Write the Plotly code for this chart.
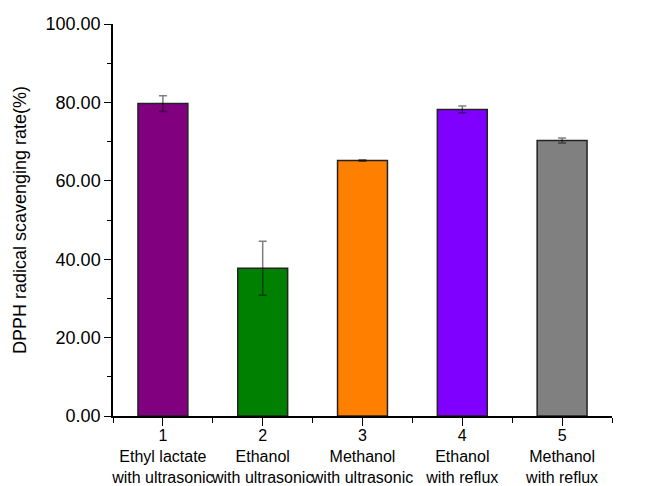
import plotly.graph_objects as go

positions = [1, 2, 3, 4, 5]
tick_labels = [
    "1<br>Ethyl lactate<br>with ultrasonic",
    "2<br>Ethanol<br>with ultrasonic",
    "3<br>Methanol<br>with ultrasonic",
    "4<br>Ethanol<br>with reflux",
    "5<br>Methanol<br>with reflux",
]
values = [79.7, 37.7, 65.2, 78.2, 70.3]
errors = [2.0, 6.9, 0.2, 0.85, 0.65]
colors = ["#800080", "#008000", "#FF8000", "#8000FF", "#808080"]

font_family = "Arial, 'Liberation Sans', sans-serif"

fig = go.Figure()
fig.add_trace(go.Bar(
    x=positions,
    y=values,
    width=0.5,
    marker=dict(color=colors, line=dict(color="#222222", width=1.5)),
    error_y=dict(type="data", array=errors, visible=True,
                 color="rgba(0,0,0,0.5)", thickness=1.5, width=4),
    showlegend=False,
))

fig.update_layout(
    width=652, height=478,
    margin=dict(l=105, r=48, t=16, b=70),
    paper_bgcolor="white", plot_bgcolor="white",
    font=dict(family=font_family, color="black"),
)

fig.update_xaxes(
    range=[0.5, 5.5],
    tickvals=positions,
    ticktext=tick_labels,
    tickangle=0,
    tickfont=dict(size=16, family=font_family, color="black"),
    ticks="outside", ticklen=8, tickwidth=1.2, tickcolor="black",
    ticklabelstandoff=-4,
    minor=dict(ticks="outside", ticklen=5, tickwidth=1.2, tickcolor="black",
               tick0=0.5, dtick=0.5),
    showline=True, linecolor="black", linewidth=1.5,
    showgrid=False, zeroline=False,
    automargin=False,
)

fig.update_yaxes(
    range=[0, 100],
    tickvals=[0, 20, 40, 60, 80, 100],
    tickformat=".2f",
    tickfont=dict(size=18, family=font_family, color="black"),
    ticks="outside", ticklen=7, tickwidth=1.2, tickcolor="black",
    minor=dict(ticks="outside", ticklen=4, tickwidth=1.2, tickcolor="black",
               tick0=0, dtick=10),
    showline=True, linecolor="black", linewidth=1.5,
    showgrid=False, zeroline=False,
    title=dict(text="DPPH radical scavenging rate(%)",
               font=dict(size=18, family=font_family, color="black"),
               standoff=14),
    automargin=False,
)

fig.write_html("out.html")
